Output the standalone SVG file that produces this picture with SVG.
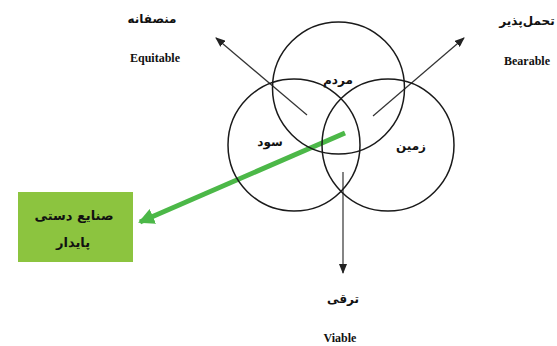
<svg xmlns="http://www.w3.org/2000/svg" width="557" height="346" viewBox="0 0 557 346">
<style>
.c{fill:none;stroke:#1a1a1a;stroke-width:1.5}
.a{stroke:#333;stroke-width:1.2;fill:none}
.fa{font-family:"DejaVu Sans",sans-serif;font-weight:bold;font-size:12px;fill:#111;text-anchor:middle}
.fb{font-size:13px}
.en{font-family:"Liberation Serif",serif;font-weight:bold;font-size:12px;fill:#111;text-anchor:middle}
</style>
<defs>
<marker id="ah" markerWidth="10" markerHeight="8" refX="9" refY="4" orient="auto" markerUnits="userSpaceOnUse">
<path d="M0,0 L10,4 L0,8 Z" fill="#222"/>
</marker>
<marker id="gh" markerWidth="18" markerHeight="16" refX="14" refY="8" orient="auto" markerUnits="userSpaceOnUse">
<path d="M0,0 L16,8 L0,16 Z" fill="#4cb848"/>
</marker>
</defs>
<rect width="557" height="346" fill="#fff"/>
<g id="connectors">
<line class="a" x1="307" y1="115" x2="216" y2="38" marker-end="url(#ah)"/>
<line class="a" x1="373" y1="116" x2="464" y2="38" marker-end="url(#ah)"/>
<line class="a" x1="343" y1="172" x2="343" y2="273" marker-end="url(#ah)"/>
<line x1="345" y1="133" x2="140" y2="222" stroke="#4cb848" stroke-width="5" marker-end="url(#gh)"/>
</g>
<g id="people"><circle class="c" cx="338.5" cy="88" r="66"/><text class="fa" x="338" y="84">مردم</text></g>
<g id="profit"><circle class="c" cx="294" cy="145" r="66"/><text class="fa" x="270" y="146">سود</text></g>
<g id="planet"><circle class="c" cx="388" cy="145" r="66"/><text class="fa" x="411" y="150">زمین</text></g>
<g id="equitable"><text class="fa" x="152" y="23">منصفانه</text><text class="en" x="155" y="62">Equitable</text></g>
<g id="bearable"><text class="fa" x="527" y="25">تحمل‌پذیر</text><text class="en" x="527" y="65">Bearable</text></g>
<g id="viable"><text class="fa" x="343" y="303">ترقی</text><text class="en" x="340" y="342">Viable</text></g>
<g id="handicraft"><rect x="18" y="192" width="115" height="70" fill="#8cc43f"/><text class="fa fb" x="74" y="220">صنایع دستی</text><text class="fa fb" x="73" y="247">پایدار</text></g>
</svg>
